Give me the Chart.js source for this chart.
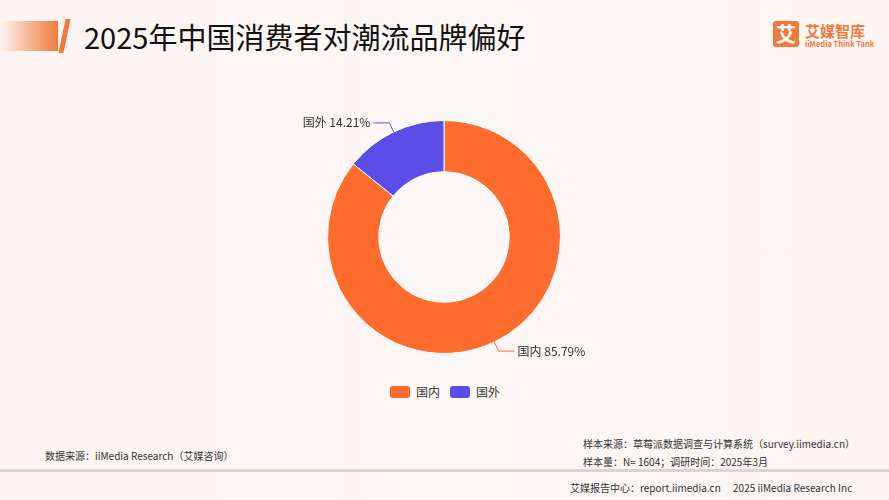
<!DOCTYPE html>
<html><head><meta charset="utf-8">
<script src="https://cdn.jsdelivr.net/npm/chart.js@4/dist/chart.umd.min.js"></script>
<style>
body{margin:0;width:889px;height:500px;overflow:hidden;font-family:"Noto Sans CJK SC","Noto Sans",sans-serif;background:linear-gradient(90deg,#fdf4f1,#fbf7f6 50%,#fdf5f2);position:relative}
.bar{position:absolute;left:0;top:21px;width:58px;height:30px;background:linear-gradient(90deg,rgba(255,255,255,0),#f07a3c)}
.slash{position:absolute;left:62px;top:19px;width:5px;height:34px;background:#f07a3c;transform:skewX(-12deg)}
.title{position:absolute;left:84px;top:15px;font-size:29px;color:#111}
.logo{position:absolute;left:773px;top:21px;width:26px;height:26px;background:#f07a3c;color:#fff;border-radius:3px;font-size:20px;text-align:center;line-height:26px;font-weight:bold}
.logot{position:absolute;left:805px;top:20px;color:#f07a3c;font-size:15px;font-weight:bold}
.logos{position:absolute;left:805px;top:38px;color:#f07a3c;font-size:7.5px;font-weight:bold}
#wrap{position:absolute;left:244px;top:100px;width:400px;height:274px}
.leg{position:absolute;top:383px;font-size:12px;color:#333;display:flex;align-items:center}
.leg i{display:inline-block;width:20px;height:12px;border-radius:3px;margin-right:6px}
.note{position:absolute;font-size:10px;color:#333}
.line{position:absolute;left:0;top:469px;width:889px;height:3px;background:#d8d5d3}
</style></head><body>
<div class="bar"></div><div class="slash"></div>
<div class="title">2025年中国消费者对潮流品牌偏好</div>
<div class="logo">艾</div><div class="logot">艾媒智库</div><div class="logos">iiMedia Think Tank</div>
<div id="wrap"><canvas id="c"></canvas></div>
<div class="leg" style="left:390px"><i style="background:#ff6d2e"></i>国内</div>
<div class="leg" style="left:450px"><i style="background:#5b4de8"></i>国外</div>
<div class="note" style="left:45px;top:448px">数据来源：iiMedia Research（艾媒咨询）</div>
<div class="note" style="left:583px;top:436px">样本来源：草莓派数据调查与计算系统（survey.iimedia.cn）</div>
<div class="note" style="left:583px;top:454px">样本量：N= 1604；调研时间：2025年3月</div>
<div class="line"></div>
<div class="note" style="left:570px;top:480px">艾媒报告中心：report.iimedia.cn　 2025 iiMedia Research Inc</div>
<script>
const categories = ['国内', '国外'];
const values = [85.79, 14.21];
const colors = ['#ff6d2e', '#5b4de8'];

const labelPlugin = {
  id: 'outLabels',
  afterDatasetsDraw(chart) {
    const c = chart.ctx;
    chart.getDatasetMeta(0).data.forEach((arc, i) => {
      const mid = (arc.startAngle + arc.endAngle) / 2;
      const r = arc.outerRadius;
      const x1 = arc.x + Math.cos(mid) * r, y1 = arc.y + Math.sin(mid) * r;
      const x2 = arc.x + Math.cos(mid) * (r + 10), y2 = arc.y + Math.sin(mid) * (r + 10);
      const right = Math.cos(mid) >= 0;
      const x3 = x2 + (right ? 16 : -16);
      c.save();
      c.strokeStyle = colors[i];
      c.beginPath(); c.moveTo(x1, y1); c.lineTo(x2, y2); c.lineTo(x3, y2); c.stroke();
      c.fillStyle = '#333';
      c.font = '12px "Noto Sans CJK SC", sans-serif';
      c.textBaseline = 'middle';
      c.textAlign = right ? 'left' : 'right';
      c.fillText(categories[i] + ' ' + values[i].toFixed(2) + '%', x3 + (right ? 3 : -3), y2);
      c.restore();
    });
  }
};

new Chart(document.getElementById('c'), {
  type: 'doughnut',
  data: { labels: categories, datasets: [{ data: values, backgroundColor: colors, borderColor: '#fff', borderWidth: 1 }] },
  options: {
    responsive: true, maintainAspectRatio: false, animation: false, cutout: '56%',
    layout: { padding: { top: 20, bottom: 20 } },
    plugins: { legend: { display: false }, tooltip: { enabled: false } }
  },
  plugins: [labelPlugin]
});
</script>
</body></html>
